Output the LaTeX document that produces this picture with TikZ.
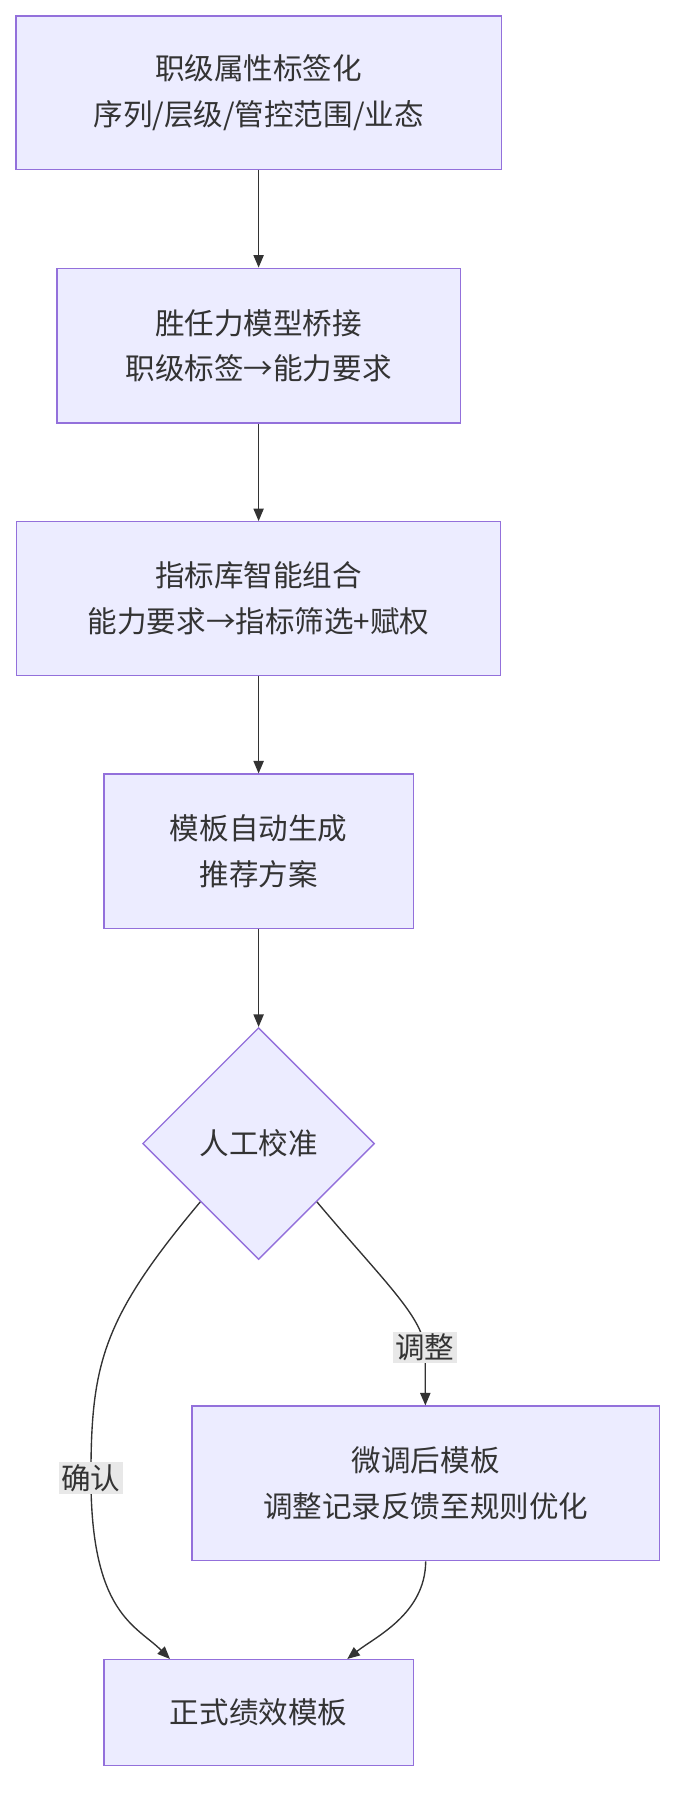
\documentclass[tikz,border=0pt]{standalone}
\usepackage{fontspec}
\setmainfont{Noto Sans CJK SC}
\usetikzlibrary{shapes.geometric,arrows.meta}
\definecolor{boxfill}{HTML}{ECECFF}
\definecolor{boxline}{HTML}{9370DB}
\definecolor{ink}{HTML}{333333}
\begin{document}
\begin{tikzpicture}[x=1pt,y=-1pt,
	stage/.style={draw=boxline,fill=boxfill,line width=1.2pt,align=center,text=ink,
		font=\fontsize{26}{40}\selectfont},
	flow/.style={draw=ink,line width=1.2pt,-{Triangle[length=11pt,width=9pt]}},
	tag/.style={fill=black!9,text=ink,font=\fontsize{26}{30}\selectfont,inner sep=2pt}]

	\useasboundingbox (0,0) rectangle (600,1587);

	\node[stage,minimum width=427,minimum height=135] (attr) at (227.5,81.5) {职级属性标签化\\序列/层级/管控范围/业态};
	\node[stage,minimum width=355,minimum height=136] (bridge) at (227.5,304) {胜任力模型桥接\\职级标签→能力要求};
	\node[stage,minimum width=426,minimum height=135] (combo) at (227.5,526.5) {指标库智能组合\\能力要求→指标筛选+赋权};
	\node[stage,minimum width=272,minimum height=136] (auto) at (227.5,749) {模板自动生成\\推荐方案};
	\node[stage,diamond,minimum width=204,minimum height=204,inner sep=0pt] (check) at (227.5,1006) {人工校准};
	\node[stage,minimum width=411,minimum height=136] (tuned) at (374.5,1305) {微调后模板\\调整记录反馈至规则优化};
	\node[stage,minimum width=272,minimum height=93] (final) at (227.5,1506.5) {正式绩效模板};

	\draw[flow] (attr) -- (bridge);
	\draw[flow] (bridge) -- (combo);
	\draw[flow] (combo) -- (auto);
	\draw[flow] (auto) -- (check);
	\draw[flow] (check.south west) .. controls (90,1160) and (80,1200) .. (80,1300)
		node[tag,pos=1] {确认} .. controls (80,1420) and (120,1430) .. ([xshift=-78pt]final.north);
	\draw[flow] (check.south east) .. controls (340,1130) and (374,1160) .. (374,1190)
		node[tag,pos=0.95] {调整} -- (tuned);
	\draw[flow] (tuned.south) .. controls (374,1420) and (330,1440) .. ([xshift=78pt]final.north);

\end{tikzpicture}
\end{document}
